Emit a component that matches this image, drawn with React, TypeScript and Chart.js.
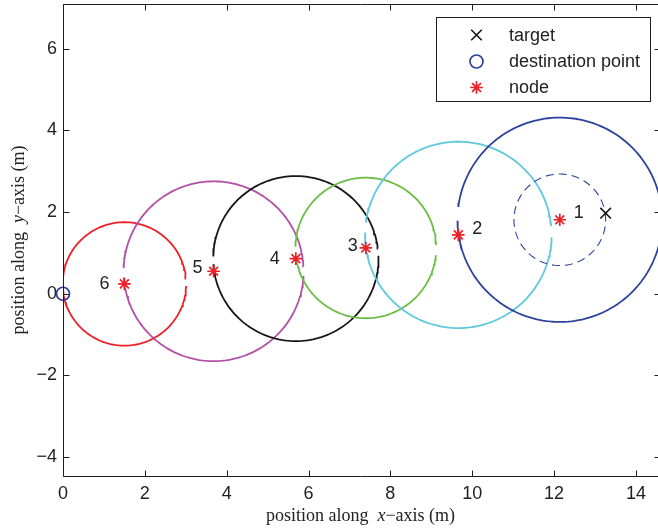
import React, { useEffect, useRef } from 'react';
import { Chart, registerables } from 'chart.js';

Chart.register(...registerables);

// ---------- data ----------
const xTickValues = [0, 2, 4, 6, 8, 10, 12, 14];
const yTickValues = [-4, -2, 0, 2, 4, 6];
const xMin = 0;
const xMax = 14.54;
const yMin = -4.46;
const yMax = 7.09;

const nodeX = [12.14, 9.66, 7.4, 5.69, 3.68, 1.5];
const nodeY = [1.81, 1.44, 1.12, 0.86, 0.55, 0.24];
const nodeLabels = ['1', '2', '3', '4', '5', '6'];
const radii = [2.5, 2.28, 1.72, 2.02, 2.2, 1.51];
// gaps in each circle's outline (degrees)
const circleGaps: number[][][] = [
  [[172.8, 180.5]],
  [[-1.5, 5.4], [172.5, 178.5]],
  [[-6, 2.5], [179, 188]],
  [[2, 7], [178.5, 184]],
  [[-3, 3], [178, 184]],
  [[-2, 5]],
];
const targetX = [13.26];
const targetY = [1.97];
const destX = [0];
const destY = [0];
const innerRadius = [1.12]; // dashed circle round node 1
const legendLabels = ['target', 'destination point', 'node'];

// ---------- styles ----------
const circleColors = ['#2c429c', '#5ec8dc', '#6cbd45', '#161616', '#b24fa6', '#ec2027'];
const nodeColor = '#ec2027';
const destColor = '#2c429c';
const targetColor = '#151515';
const textColor = '#222222';
const labelOffsets = [[19, -7], [19, -6], [-13, -2], [-21, 0], [-16, -3], [-20, 0]];

function arcSegments(gaps: number[][]) {
  const g = gaps.slice().sort((a, b) => a[0] - b[0]);
  const segs: number[][] = [];
  for (let i = 0; i < g.length; i++) {
    const start = g[i][1];
    const end = i + 1 < g.length ? g[i + 1][0] : g[0][0] + 360;
    segs.push([start, end]);
  }
  return segs;
}

function arcPoints(cx: number, cy: number, r: number, a0: number, a1: number) {
  const pts: { x: number; y: number }[] = [];
  for (let a = a0; a < a1; a += 2) {
    const t = (a * Math.PI) / 180;
    pts.push({ x: cx + r * Math.cos(t), y: cy + r * Math.sin(t) });
  }
  const t1 = (a1 * Math.PI) / 180;
  pts.push({ x: cx + r * Math.cos(t1), y: cy + r * Math.sin(t1) });
  return pts;
}

function drawMarker(ctx: CanvasRenderingContext2D, kind: string, x: number, y: number) {
  ctx.save();
  ctx.beginPath();
  if (kind === 'target') {
    const d = 5.3;
    ctx.strokeStyle = targetColor;
    ctx.lineWidth = 1.6;
    ctx.moveTo(x - d, y - d); ctx.lineTo(x + d, y + d);
    ctx.moveTo(x + d, y - d); ctx.lineTo(x - d, y + d);
  } else if (kind === 'dest') {
    ctx.strokeStyle = destColor;
    ctx.lineWidth = 1.7;
    ctx.arc(x, y, 6.5, 0, Math.PI * 2);
  } else {
    const r = 6.3;
    const d = r * Math.SQRT1_2;
    ctx.strokeStyle = nodeColor;
    ctx.lineWidth = 1.7;
    ctx.moveTo(x - r, y); ctx.lineTo(x + r, y);
    ctx.moveTo(x, y - r); ctx.lineTo(x, y + r);
    ctx.moveTo(x - d, y - d); ctx.lineTo(x + d, y + d);
    ctx.moveTo(x + d, y - d); ctx.lineTo(x - d, y + d);
  }
  ctx.stroke();
  ctx.restore();
}

function drawMixed(ctx: CanvasRenderingContext2D, parts: [string, boolean][], cx: number, cy: number) {
  const fontN = '18px "Liberation Serif", "Times New Roman", serif';
  const fontI = 'italic 18px "Liberation Serif", "Times New Roman", serif';
  let total = 0;
  const widths = parts.map(([t, it]) => {
    ctx.font = it ? fontI : fontN;
    const w = ctx.measureText(t).width;
    total += w;
    return w;
  });
  let x = cx - total / 2;
  ctx.textBaseline = 'middle';
  ctx.textAlign = 'left';
  parts.forEach(([t, it], i) => {
    ctx.font = it ? fontI : fontN;
    ctx.fillText(t, x, cy);
    x += widths[i];
  });
}

const framePlugin = {
  id: 'frame',
  afterDraw(chart: any) {
    const { ctx, chartArea: a, scales } = chart;
    const xs = scales.x;
    const ys = scales.y;
    ctx.save();
    ctx.strokeStyle = '#1e1e1e';
    ctx.lineWidth = 1;
    ctx.beginPath();
    const L = Math.round(a.left) + 0.5;
    const B = Math.round(a.bottom) + 0.5;
    const T = Math.round(a.top) + 0.5;
    const R = Math.round(a.right) - 0.5;
    ctx.moveTo(L, T); ctx.lineTo(L, B); ctx.lineTo(a.right, B);
    ctx.moveTo(L, T); ctx.lineTo(a.right, T);
    xTickValues.forEach((v) => {
      const px = Math.round(xs.getPixelForValue(v)) + 0.5;
      ctx.moveTo(px, B); ctx.lineTo(px, B - 6);
      ctx.moveTo(px, T); ctx.lineTo(px, T + 6);
    });
    yTickValues.forEach((v) => {
      const py = Math.round(ys.getPixelForValue(v)) + 0.5;
      ctx.moveTo(L, py); ctx.lineTo(L + 6, py);
      ctx.moveTo(R + 1, py); ctx.lineTo(R - 3, py);
    });
    ctx.stroke();

    // node labels
    ctx.fillStyle = textColor;
    ctx.font = '18px "Liberation Sans", Arial, sans-serif';
    ctx.textAlign = 'center';
    ctx.textBaseline = 'middle';
    nodeLabels.forEach((lab, i) => {
      const px = xs.getPixelForValue(nodeX[i]) + labelOffsets[i][0];
      const py = ys.getPixelForValue(nodeY[i]) + labelOffsets[i][1];
      ctx.fillText(lab, px, py);
    });

    // axis titles
    ctx.fillStyle = textColor;
    drawMixed(ctx, [['position along  ', false], ['x', true], ['\u2212axis (m)', false]], (a.left + a.right) / 2, 516);
    ctx.save();
    ctx.translate(19, (a.top + a.bottom) / 2);
    ctx.rotate(-Math.PI / 2);
    drawMixed(ctx, [['position along  ', false], ['y', true], ['\u2212axis (m)', false]], 0, 0);
    ctx.restore();

    // legend
    const bx = 436.5, by = 17.5, bw = 214, bh = 84;
    ctx.fillStyle = '#ffffff';
    ctx.fillRect(bx, by, bw, bh);
    ctx.strokeStyle = '#1e1e1e';
    ctx.lineWidth = 1;
    ctx.strokeRect(bx, by, bw, bh);
    const rows = [35, 61.5, 87.5];
    const kinds = ['target', 'dest', 'node'];
    ctx.font = '18px "Liberation Sans", Arial, sans-serif';
    ctx.textAlign = 'left';
    ctx.textBaseline = 'middle';
    legendLabels.forEach((lab, i) => {
      drawMarker(ctx, kinds[i], 476.5, rows[i]);
      ctx.fillStyle = textColor;
      ctx.fillText(lab, 509, rows[i] + 1);
    });
    ctx.restore();
  },
};

function zeroPad(s: any) {
  s.paddingTop = 0;
  s.paddingBottom = 0;
  s.paddingLeft = 0;
  s.paddingRight = 0;
}

export default function App() {
  const ref = useRef<HTMLCanvasElement | null>(null);

  useEffect(() => {
    if (!ref.current) return;
    const datasets: any[] = [];
    datasets.push({
      label: legendLabels[0],
      data: targetX.map((x, i) => ({ x, y: targetY[i] })),
      pointStyle: 'crossRot',
      pointRadius: 7.5,
      borderColor: targetColor,
      backgroundColor: targetColor,
      borderWidth: 1.6,
      showLine: false,
      clip: false,
    });
    datasets.push({
      label: legendLabels[2],
      data: nodeX.map((x, i) => ({ x, y: nodeY[i] })),
      pointStyle: 'star',
      pointRadius: 6.3,
      borderColor: nodeColor,
      backgroundColor: nodeColor,
      borderWidth: 1.7,
      showLine: false,
      clip: false,
    });
    datasets.push({
      label: legendLabels[1],
      data: destX.map((x, i) => ({ x, y: destY[i] })),
      pointStyle: 'circle',
      pointRadius: 6.5,
      borderColor: destColor,
      backgroundColor: 'rgba(0,0,0,0)',
      borderWidth: 1.7,
      showLine: false,
      clip: false,
    });
    datasets.push({
      label: 'inner',
      data: arcPoints(nodeX[0], nodeY[0], innerRadius[0], 0, 360),
      showLine: true,
      pointRadius: 0,
      borderColor: destColor,
      borderWidth: 1.1,
      borderDash: [8, 5],
      fill: false,
    });
    radii.forEach((r, i) => {
      arcSegments(circleGaps[i]).forEach(([s, e]) => {
        datasets.push({
          label: 'circle' + i,
          data: arcPoints(nodeX[i], nodeY[i], r, s, e),
          showLine: true,
          pointRadius: 0,
          borderColor: circleColors[i],
          borderWidth: 1.8,
          fill: false,
        });
      });
    });

    const tickFont = { family: '"Liberation Sans", Arial, sans-serif', size: 18 };
    const fmt = (v: any) => (v < 0 ? '\u2212' + Math.abs(v) : String(v));

    const chart = new Chart(ref.current, {
      type: 'scatter',
      data: { datasets },
      options: {
        animation: false,
        responsive: false,
        devicePixelRatio: 1,
        events: [],
        layout: { autoPadding: false, padding: { top: 4, left: 0, right: 0, bottom: 0 } },
        plugins: { legend: { display: false }, tooltip: { enabled: false } },
        scales: {
          x: {
            type: 'linear',
            min: xMin,
            max: xMax,
            grid: { display: false, drawTicks: false },
            border: { display: false },
            ticks: { font: tickFont, color: textColor, padding: 7, callback: fmt, maxRotation: 0 },
            afterBuildTicks: (s: any) => { s.ticks = xTickValues.map((v) => ({ value: v })); },
            afterFit: (s: any) => { s.height = 55; zeroPad(s); },
          },
          y: {
            type: 'linear',
            min: yMin,
            max: yMax,
            grid: { display: false, drawTicks: false },
            border: { display: false },
            ticks: { font: tickFont, color: textColor, padding: 6, callback: fmt },
            afterBuildTicks: (s: any) => { s.ticks = yTickValues.map((v) => ({ value: v })); },
            afterFit: (s: any) => { s.width = 63; zeroPad(s); },
          },
        },
      } as any,
      plugins: [framePlugin],
    });
    return () => chart.destroy();
  }, []);

  return (
    <div style={{ position: 'fixed', left: 0, top: 0, width: 658, height: 531, background: '#fff' }}>
      <canvas ref={ref} width={658} height={531} style={{ display: 'block' }} />
    </div>
  );
}
